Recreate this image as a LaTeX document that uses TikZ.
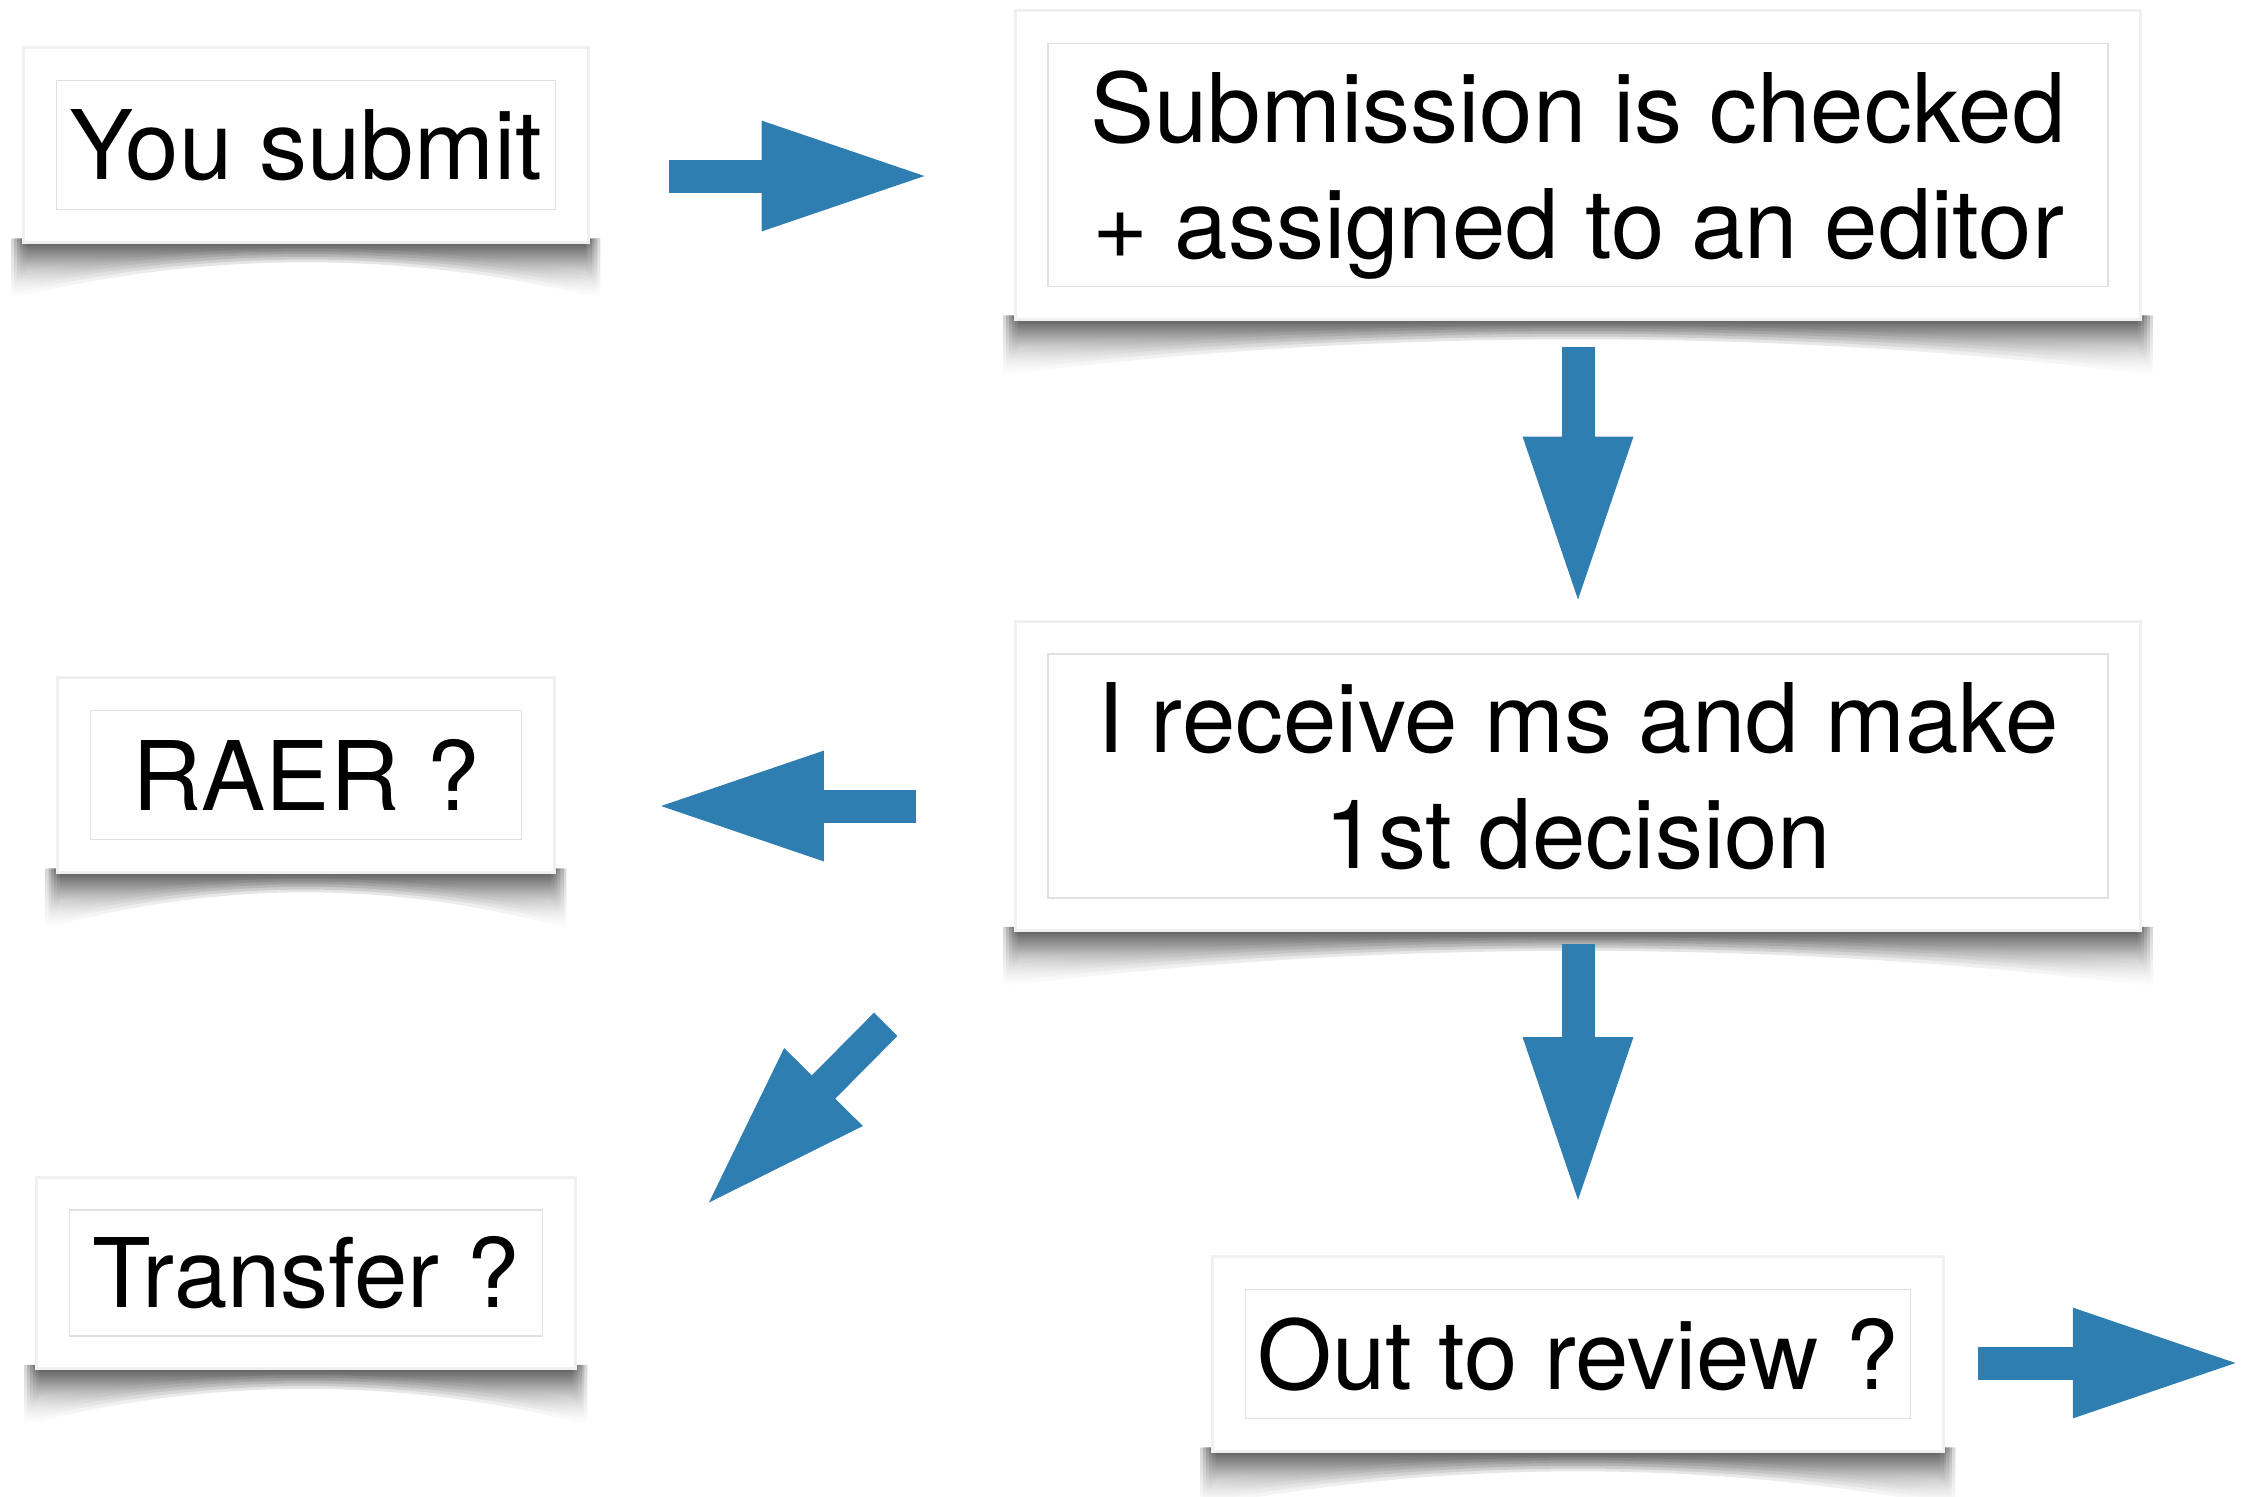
\documentclass[tikz,border=0pt]{standalone}
\usepackage{fontspec}
\setmainfont{TeX Gyre Heros}
\usepackage{xcolor}
\usepackage{tikz}
\usetikzlibrary{calc,fit,backgrounds,arrows.meta}
\definecolor{FlowBlue}{RGB}{46,126,178}
\definecolor{FrameGray}{RGB}{224,224,224}

\tikzset{
  stage/.style={draw=FrameGray, line width=0.8pt, align=center, inner sep=0pt,
    font=\fontsize{48}{58}\selectfont},
  card/.style={fill=white, draw=black!6, line width=1.5pt, inner sep=16pt},
  flow/.style={FlowBlue, line width=16.5pt, -{Triangle[length=85pt, width=50pt]}},
}

% curled shadow under the card of a stage, built from soft layers
\newcommand{\curlshadow}[1]{%
  \foreach \k in {0,...,5}
    \shade[top color=black, bottom color=white, opacity=0.17]
      ($(#1.south west)+(-44+3*\k,28)$) -- ($(#1.south east)+(44-3*\k,28)$)
      -- ($(#1.south east)+(44-3*\k,88-5*\k)$)
      .. controls ($(#1.south west)!0.7!(#1.south east)+(0,40-2*\k)$)
      and ($(#1.south west)!0.3!(#1.south east)+(0,40-2*\k)$) .. ($(#1.south west)+(-44+3*\k,88-5*\k)$)
      -- cycle;}

\begin{document}
\begin{tikzpicture}[x=0.5pt, y=-0.5pt]
  \useasboundingbox (0,0) rectangle (2245,1496);

  % Stages
  \node[stage, minimum width=249.5pt, minimum height=64.5pt] (submit) at (306,145) {You submit};
  \node[stage, minimum width=530pt, minimum height=121.5pt] (check) at (1578,165)
    {\rule{0pt}{46pt}Submission is checked\\+ assigned to an editor};
  \node[stage, minimum width=530pt, minimum height=122pt] (decide) at (1578,776)
    {I receive ms and make\\1st decision};
  \node[stage, minimum width=215.5pt, minimum height=64.5pt] (raer) at (306,775) {RAER ?};
  \node[stage, minimum width=236.5pt, minimum height=63pt] (transfer) at (306,1273) {Transfer ?};
  \node[stage, minimum width=332.5pt, minimum height=64.5pt] (review) at (1578,1354) {Out to review ?};

  % Cards and shadows
  \begin{scope}[on background layer]
    \foreach \s in {submit, check, decide, raer, transfer, review}
      \curlshadow{\s};
    \foreach \s in {submit, check, decide, raer, transfer, review}
      \node[card, fit=(\s)] (\s card) {};
  \end{scope}

  % Arrow ends
  \coordinate (a1s) at ($(submitcard.east)+(79,31)$);
  \coordinate (a1e) at ($(checkcard.west)+(-82,11)$);
  \coordinate (a2s) at ($(checkcard.south)+(0,26)$);
  \coordinate (a2e) at ($(decidecard.north)+(0,-13)$);
  \coordinate (a3s) at ($(decidecard.west)+(-98,30)$);
  \coordinate (a3e) at ($(raercard.east)+(98,31)$);
  \coordinate (a4s) at ($(decidecard.south west)+(-128,92)$);
  \coordinate (a4e) at ($(transfercard.north east)+(127,32)$);
  \coordinate (a5s) at ($(decidecard.south)+(0,12)$);
  \coordinate (a5e) at ($(reviewcard.north)+(0,-48)$);
  \coordinate (a6s) at ($(reviewcard.east)+(33,9)$);
  \coordinate (a6e) at ($(reviewcard.east)+(298,9)$);

  % Arrows
  \draw[flow] (a1s) -- (a1e);
  \draw[flow] (a2s) -- (a2e);
  \draw[flow] (a3s) -- (a3e);
  \draw[flow] (a4s) -- (a4e);
  \draw[flow] (a5s) -- (a5e);
  \draw[flow] (a6s) -- (a6e);
\end{tikzpicture}
\end{document}
